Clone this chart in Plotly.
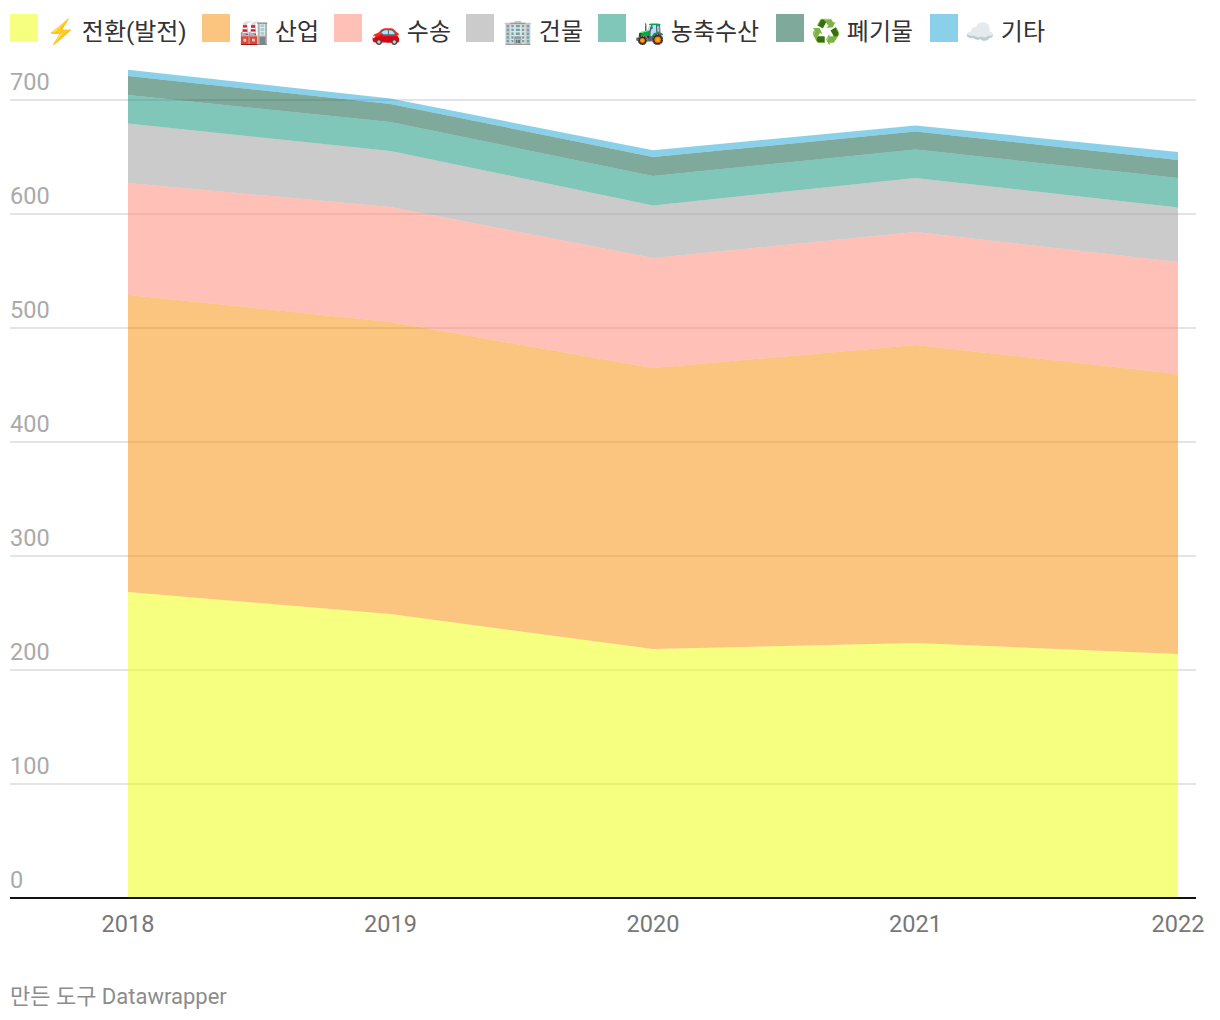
import plotly.graph_objects as go

years = [2018, 2019, 2020, 2021, 2022]
power = [268.4, 249.1, 218.4, 223.7, 214.0]
industry = [260.6, 256.2, 246.5, 261.4, 245.6]
transport = [98.2, 100.8, 96.5, 99.1, 98.3]
buildings = [52.2, 49.2, 46.1, 47.4, 47.8]
agriculture = [25.0, 25.4, 25.8, 25.0, 25.9]
waste = [16.6, 15.8, 16.7, 15.8, 15.8]
other = [5.6, 4.8, 5.9, 5.2, 7.0]

labels = ["⚡ 전환(발전)", "🏭 산업", "🚗 수송", "🏢 건물", "🚜 농축수산", "♻️ 폐기물", "☁️ 기타"]
series = [power, industry, transport, buildings, agriculture, waste, other]
colors = ["rgba(237,255,0,0.5)", "rgba(247,137,0,0.5)", "rgba(255,131,111,0.5)",
          "rgba(151,151,151,0.5)", "rgba(1,143,115,0.5)", "rgba(0,83,55,0.5)",
          "rgba(23,161,211,0.5)"]
y_ticks = [0, 100, 200, 300, 400, 500, 600, 700]
x_ticks = [2018, 2019, 2020, 2021, 2022]
footer = "만든 도구 Datawrapper"

W, H = 1220, 1020
L, R, T, B = 10, 1196, 60, 899
FONT = "Roboto, 'Noto Sans CJK KR', 'Noto Color Emoji', sans-serif"
swatch_x = [10, 202, 334, 466, 598, 776, 930]
label_x = [44, 237, 369, 501, 633, 809, 963]

px = lambda x: (x - L) / (R - L)
py = lambda y: (B - y) / (B - T)

fig = go.Figure()
for name, vals, col in zip(labels, series, colors):
    fig.add_trace(go.Scatter(x=years, y=vals, name=name, mode="none", stackgroup="one",
                             fillcolor=col, showlegend=False, hoverinfo="x+y+name"))

shapes, annos = [], []
for sx, col in zip(swatch_x, colors):
    shapes.append(dict(type="rect", xref="paper", yref="paper", x0=px(sx), x1=px(sx + 28),
                       y0=py(42), y1=py(14), fillcolor=col, line_width=0))
for lx, name in zip(label_x, labels):
    annos.append(dict(text=name, xref="paper", yref="paper", x=px(lx), y=py(32), xanchor="left",
                      yanchor="middle", showarrow=False, align="left",
                      font=dict(family=FONT, size=24, color="#333333")))
annos.append(dict(text=footer, xref="paper", yref="paper", x=px(8), y=py(996), xanchor="left",
                  yanchor="middle", showarrow=False, font=dict(family=FONT, size=22, color="#8c8c8c")))

fig.update_layout(
    width=W, height=H, margin=dict(l=L, r=W - R, t=T, b=H - B, pad=0),
    paper_bgcolor="white", plot_bgcolor="white", font=dict(family=FONT),
    shapes=shapes, annotations=annos,
    xaxis=dict(range=[2018 - 118 / 262.5, 2022 + 18 / 262.5], tickvals=x_ticks, ticktext=[str(v) for v in x_ticks],
               showgrid=False, zeroline=False, showline=False,
               ticks="", tickfont=dict(size=23.5, color="#777777"), ticklabelstandoff=8),
    yaxis=dict(range=[-1 / 1.14, (B - T - 1) / 1.14], tickvals=y_ticks, ticktext=[str(v) for v in y_ticks],
               showgrid=True, gridcolor="#e4e4e4", gridwidth=1.5,
               zeroline=True, zerolinecolor="#111111", zerolinewidth=2, zerolinelayer="above traces",
               showline=False,
               ticks="", ticklabelposition="inside top", ticklabelshift=-2, ticklabelstandoff=-3,
               tickfont=dict(size=23.5, color="#aaaaaa")),
)
fig.write_html("out.html", post_script="document.body.style.margin='0';", config={"displayModeBar": False})
